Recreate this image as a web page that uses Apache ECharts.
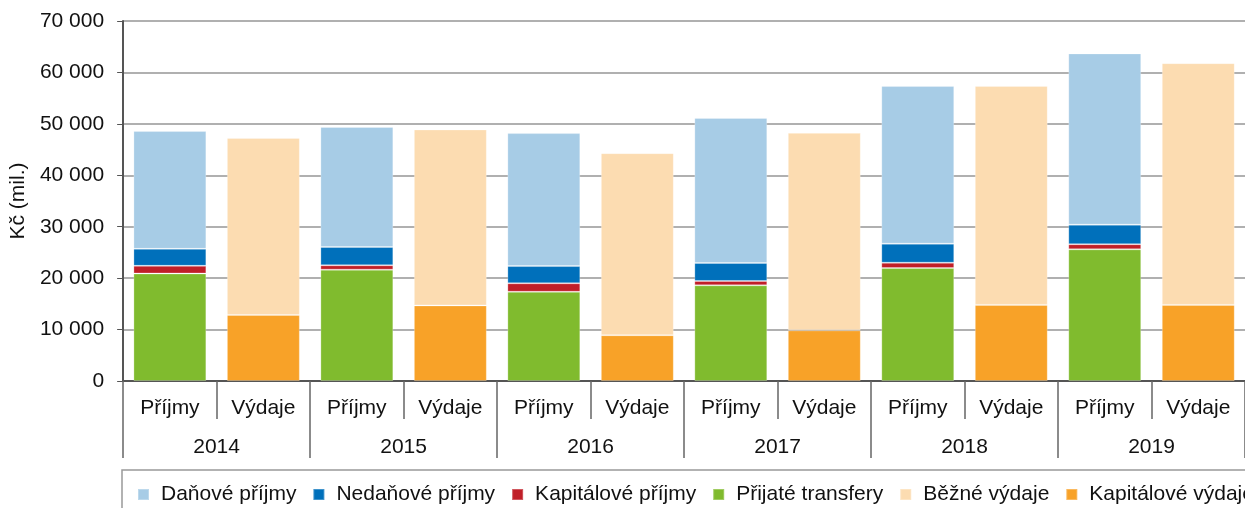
<!DOCTYPE html>
<html>
<head>
<meta charset="utf-8">
<script src="https://cdn.jsdelivr.net/npm/echarts@6/dist/echarts.min.js"></script>
<style>
  html, body { margin: 0; padding: 0; background: #fff; }
  #main { width: 1245px; height: 508px; }
</style>
</head>
<body>
<div id="main"></div>
<script>
// data (mil. Kč)
var years = ['2014', '2015', '2016', '2017', '2018', '2019'];
var kinds = ['Příjmy', 'Výdaje'];
var danove = [22900, 23350, 25850, 28200, 30650, 33300];
var nedanove = [3300, 3550, 3350, 3500, 3700, 3800];
var kapPrijmy = [1500, 850, 1650, 850, 1050, 1000];
var transfery = [20900, 21650, 17350, 18600, 21950, 25600];
var bezne = [34400, 34200, 35400, 38400, 42550, 47000];
var kapVydaje = [12850, 14700, 8900, 9850, 14800, 14800];

var categories = [];
years.forEach(function () { categories.push(kinds[0], kinds[1]); });

// place a yearly series on either the Příjmy or Výdaje slot
function spread(arr, slot) {
    var out = [];
    arr.forEach(function (v) {
        out.push(slot === 0 ? v : null);
        out.push(slot === 1 ? v : null);
    });
    return out;
}

function fmt(v) {
    return String(v).replace(/\B(?=(\d{3})+(?!\d))/g, ' ');
}

var font = 'Liberation Sans, Arial, sans-serif';

function bar(name, color, arr, slot) {
    return {
        name: name,
        type: 'bar',
        stack: 'all',
        barWidth: '78%',
        data: spread(arr, slot),
        itemStyle: { color: color, borderColor: 'rgba(255,255,255,0.25)', borderWidth: 1 }
    };
}

var chart = echarts.init(document.getElementById('main'));
var option = {
    animation: false,
    grid: { left: 122, top: 21, width: 1128, height: 360 },
    legend: {
        left: 122,
        top: 470,
        width: 1400,
        padding: [14, 15, 10, 15],
        borderColor: '#999',
        borderWidth: 1.5,
        icon: 'rect',
        itemWidth: 11,
        itemHeight: 11,
        itemGap: 16,
        textStyle: { fontFamily: font, fontSize: 21, color: '#111', padding: [0, 0, 0, 7] },
        data: ['Daňové příjmy', 'Nedaňové příjmy', 'Kapitálové příjmy', 'Přijaté transfery', 'Běžné výdaje', 'Kapitálové výdaje']
    },
    xAxis: [
        {
            type: 'category',
            data: categories,
            position: 'bottom',
            axisLine: { lineStyle: { color: '#555', width: 2 } },
            axisTick: { show: true, interval: 0, length: 38, lineStyle: { color: '#666', width: 1.5 } },
            axisLabel: { interval: 0, margin: 17, fontFamily: font, fontSize: 21, color: '#111' }
        },
        {
            type: 'category',
            data: years,
            position: 'bottom',
            axisLine: { show: false },
            axisTick: { show: true, interval: 0, length: 77, lineStyle: { color: '#666', width: 1.5 } },
            axisLabel: { interval: 0, margin: 56, fontFamily: font, fontSize: 21, color: '#111' },
            splitLine: { show: false }
        }
    ],
    yAxis: {
        type: 'value',
        min: 0,
        max: 70000,
        interval: 10000,
        name: 'Kč (mil.)',
        nameLocation: 'middle',
        nameGap: 84,
        nameTextStyle: { fontFamily: font, fontSize: 21, color: '#111' },
        axisLine: { show: true, lineStyle: { color: '#555', width: 2 } },
        axisTick: { show: true, length: 6, lineStyle: { color: '#555' } },
        axisLabel: { margin: 19, fontFamily: font, fontSize: 21, color: '#111', formatter: fmt },
        splitLine: { lineStyle: { color: '#b0b0b0', width: 2 } }
    },
    series: [
        bar('Přijaté transfery', '#80bb2e', transfery, 0),
        bar('Kapitálové příjmy', '#c01f28', kapPrijmy, 0),
        bar('Nedaňové příjmy', '#0070bb', nedanove, 0),
        bar('Daňové příjmy', '#a7cce6', danove, 0),
        bar('Kapitálové výdaje', '#f8a228', kapVydaje, 1),
        bar('Běžné výdaje', '#fcdcb1', bezne, 1)
    ]
};
chart.setOption(option);
</script>
</body>
</html>
